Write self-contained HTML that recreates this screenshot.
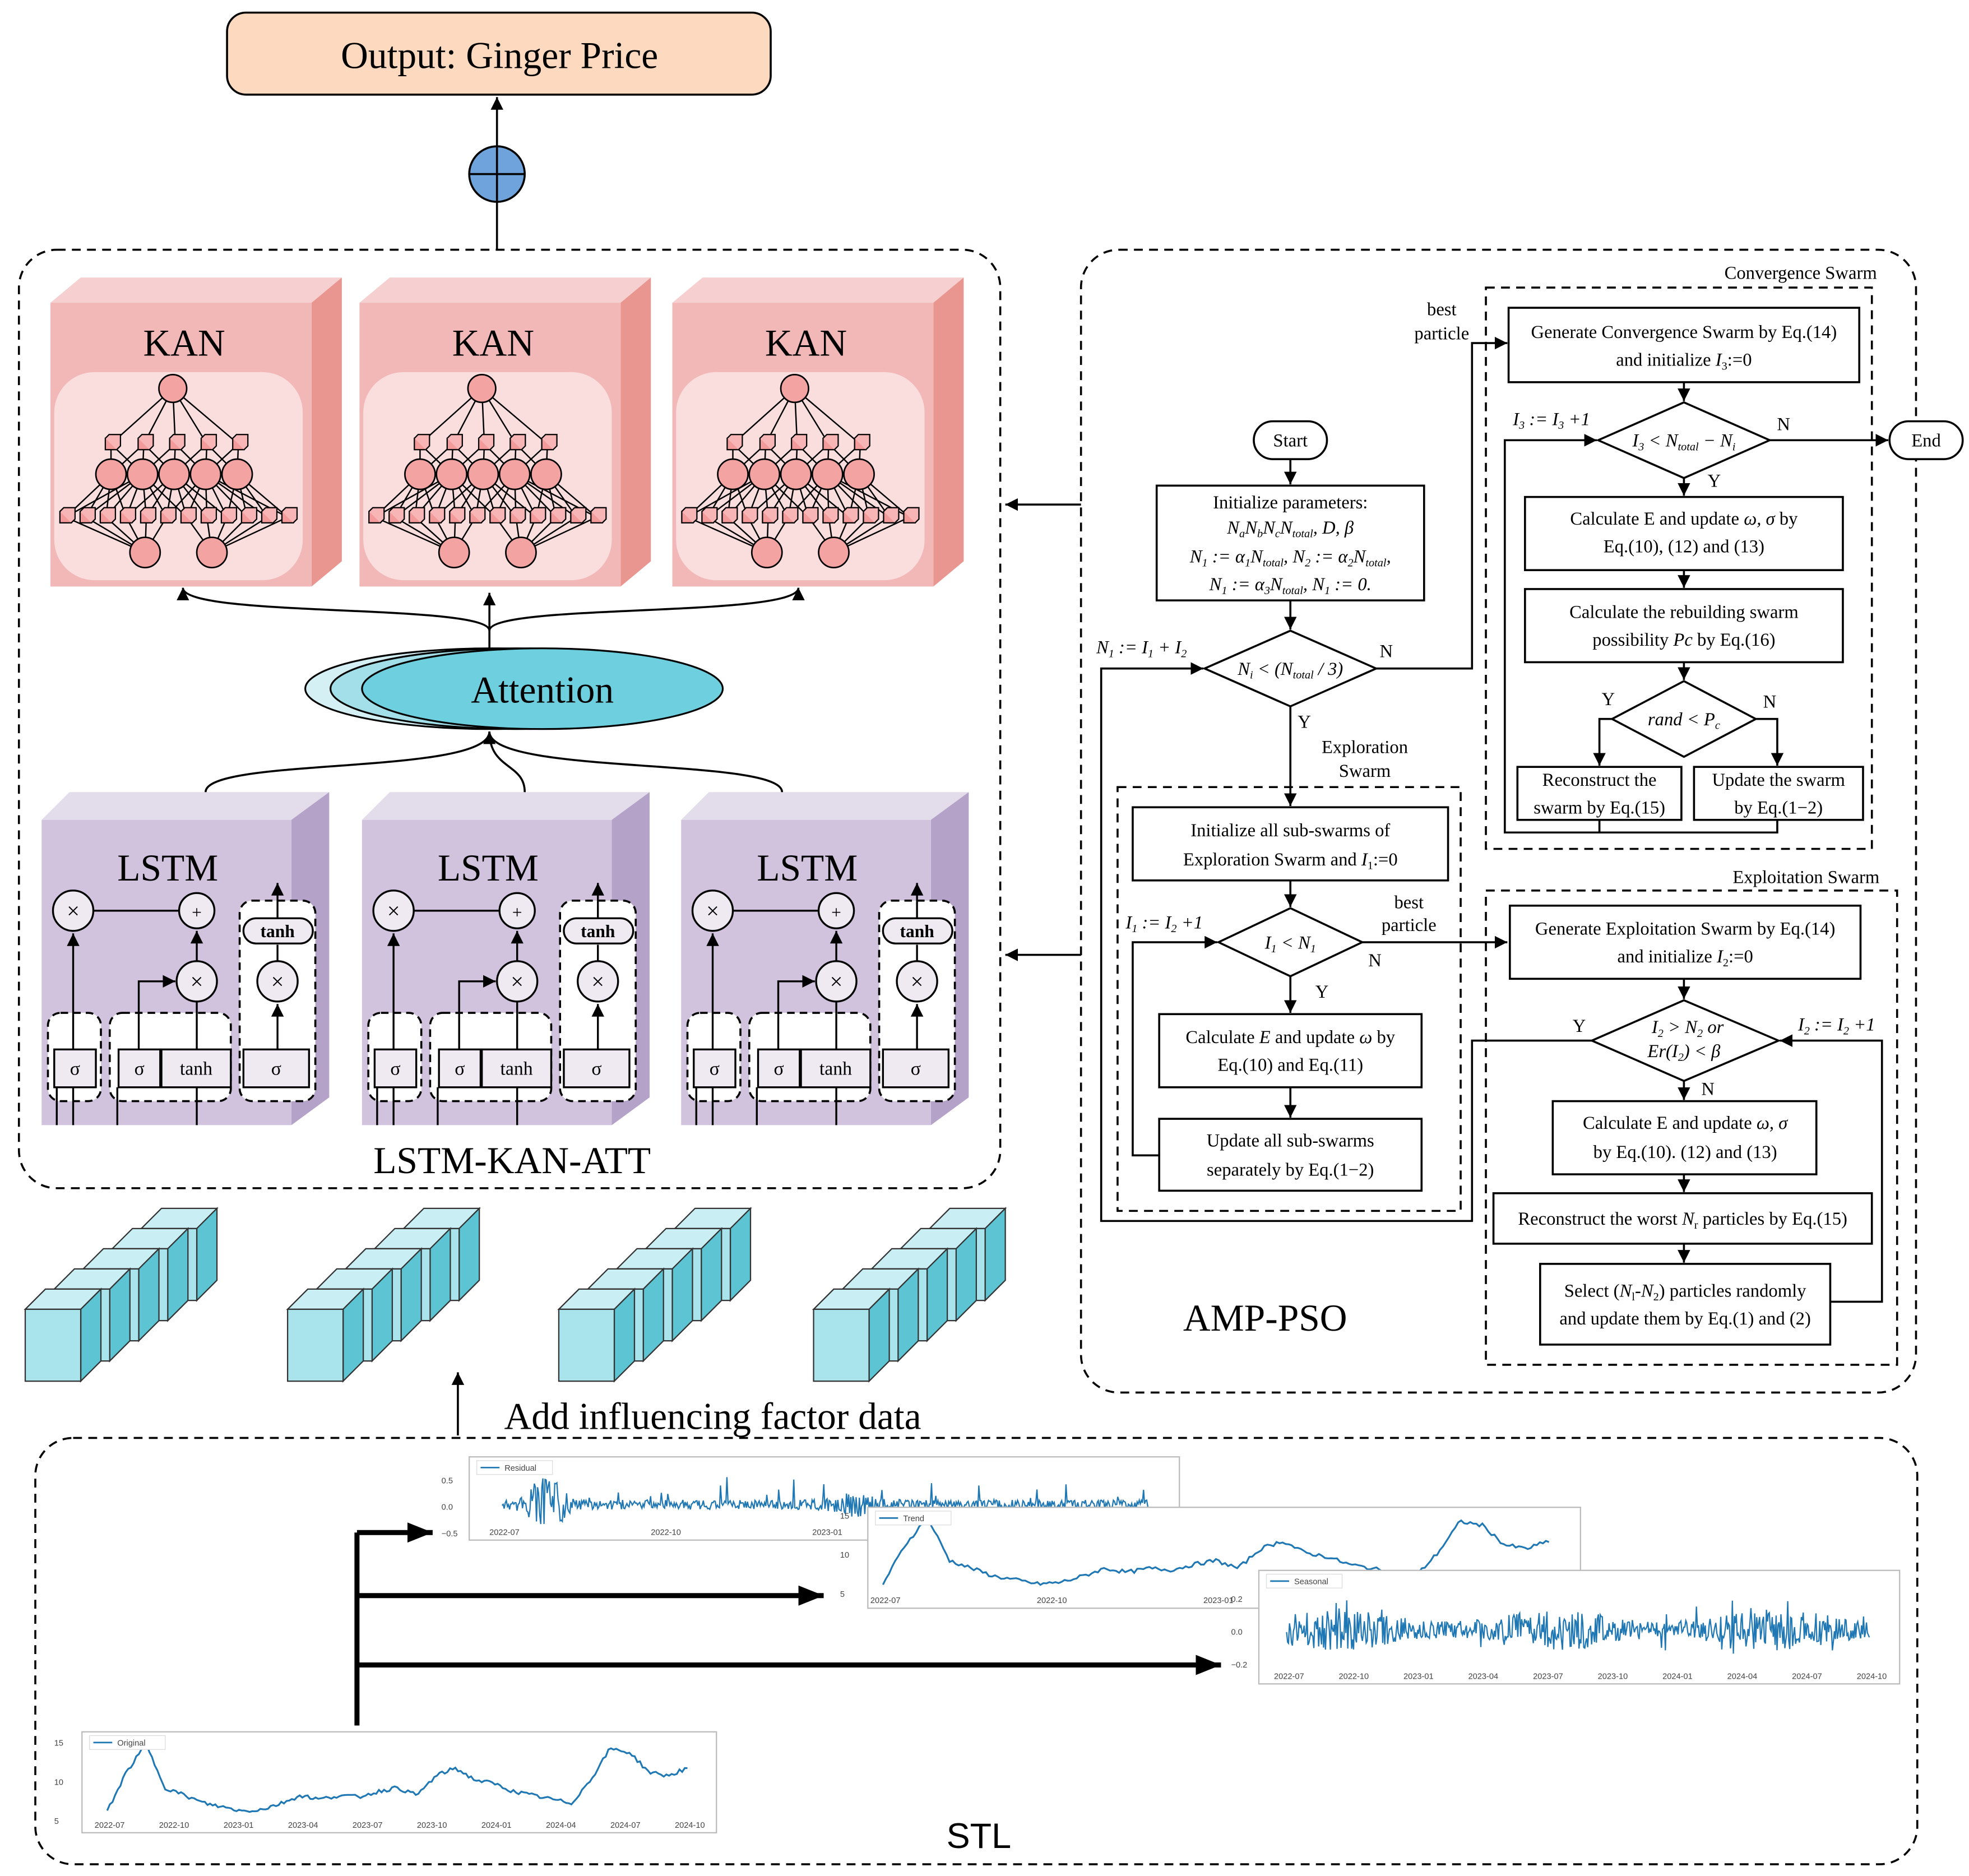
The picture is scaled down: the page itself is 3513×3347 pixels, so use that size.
<!DOCTYPE html>
<html><head><meta charset="utf-8">
<style>
html,body{margin:0;padding:0;background:#fff;}
svg{display:block;}
text{font-family:"Liberation Serif",serif;}
.f{font-size:14.5px;text-anchor:middle;}
.i{font-style:italic;}
.b{fill:#fff;stroke:#000;stroke-width:1.6;}
.l{fill:none;stroke:#000;stroke-width:1.6;}
.d{fill:none;stroke:#000;stroke-width:1.6;stroke-dasharray:7 5;}
.big{font-size:30px;text-anchor:middle;}
.tk{font-family:"Liberation Sans",sans-serif;font-size:6.5px;fill:#444;}
</style></head>
<body>
<svg id="s" width="3513" height="3347" viewBox="0 0 1561 1487.3" preserveAspectRatio="none" xmlns="http://www.w3.org/2000/svg">
<defs>
<marker id="a" markerUnits="userSpaceOnUse" markerWidth="12" markerHeight="12" refX="10" refY="5" orient="auto"><path d="M0,0 L10,5 L0,10 z" fill="#000"/></marker>
<marker id="a2" markerUnits="userSpaceOnUse" markerWidth="24" markerHeight="20" refX="20" refY="8" orient="auto"><path d="M0,0 L20,8 L0,16 z" fill="#000"/></marker>
</defs>
<rect width="1561" height="1488" fill="#fff"/>

<!-- Output -->
<rect x="180" y="10" width="431" height="65" rx="15" fill="#fcd9bf" stroke="#000" stroke-width="1.6"/>
<text x="396" y="54" class="big">Output: Ginger Price</text>
<line x1="394" y1="198" x2="394" y2="160" class="l"/>
<line x1="394" y1="116" x2="394" y2="77" class="l" marker-end="url(#a)"/>
<circle cx="394" cy="138" r="22" fill="#6fa3dc" stroke="#000" stroke-width="1.6"/>
<line x1="372" y1="138" x2="416" y2="138" class="l"/><line x1="394" y1="116" x2="394" y2="160" class="l"/>

<!-- left dashed -->
<rect x="15" y="198" width="778" height="744" rx="30" class="d"/>
<g id="kan"></g>
<g id="lstm"></g>
<g id="att">
<ellipse cx="390" cy="546" rx="148" ry="32" fill="#d4f0f4" stroke="#000" stroke-width="1.4"/>
<ellipse cx="410" cy="546" rx="148" ry="32" fill="#a3dfe9" stroke="#000" stroke-width="1.4"/>
<ellipse cx="430" cy="546" rx="143" ry="32" fill="#6ecfdf" stroke="#000" stroke-width="1.4"/>
<text x="430" y="557" class="big">Attention</text>
<line x1="388" y1="515" x2="388" y2="470" class="l" marker-end="url(#a)"/>
<path d="M388,500 C388,478 145,490 145,466" class="l" marker-end="url(#a)"/>
<path d="M388,500 C388,478 633,490 633,466" class="l" marker-end="url(#a)"/>
<path d="M163,628 C163,600 388,615 388,580" class="l" marker-end="url(#a)"/>
<path d="M416,628 C416,605 388,610 388,580" class="l"/>
<path d="M620,628 C620,600 388,615 388,580" class="l"/>
</g>
<text x="406" y="930" class="big">LSTM-KAN-ATT</text>
<text x="133" y="698" class="big">LSTM</text><text x="387" y="698" class="big">LSTM</text><text x="640" y="698" class="big">LSTM</text>
<text x="146" y="282" class="big">KAN</text><text x="391" y="282" class="big">KAN</text><text x="639" y="282" class="big">KAN</text>

<g id="cubes"></g>
<line x1="363" y1="1138" x2="363" y2="1088" class="l" marker-end="url(#a)"/>
<text x="565" y="1133" style="font-size:30px;text-anchor:middle">Add influencing factor data</text>

<!-- STL -->
<rect x="28" y="1140" width="1492" height="338" rx="30" class="d"/>
<text x="776" y="1465" style="font-size:28px;text-anchor:middle;font-family:'Liberation Sans',sans-serif">STL</text>
<g id="charts"></g>
<g stroke="#000" stroke-width="4" fill="none">
<line x1="283" y1="1368" x2="283" y2="1215"/>
<line x1="283" y1="1215" x2="343" y2="1215" marker-end="url(#a2)"/>
<line x1="283" y1="1265" x2="653" y2="1265" marker-end="url(#a2)"/>
<line x1="283" y1="1320" x2="968" y2="1320" marker-end="url(#a2)"/>
</g>

<!-- AMP-PSO -->
<rect x="857" y="198" width="662" height="906" rx="30" class="d"/>
<text x="1003" y="1055" class="big">AMP-PSO</text>
<line x1="857" y1="400" x2="797" y2="400" class="l" marker-end="url(#a)"/>
<line x1="857" y1="757" x2="797" y2="757" class="l" marker-end="url(#a)"/>

<rect x="994" y="334" width="58" height="30" rx="15" class="b"/><text x="1023" y="354" class="f">Start</text>
<line x1="1023" y1="364" x2="1023" y2="384" class="l" marker-end="url(#a)"/>
<rect x="917" y="385" width="212" height="91" class="b"/>
<text x="1023" y="403" class="f">Initialize parameters:</text>
<text x="1023" y="423" class="f i">N<tspan font-size="9" dy="3">a</tspan><tspan dy="-3">N</tspan><tspan font-size="9" dy="3">b</tspan><tspan dy="-3">N</tspan><tspan font-size="9" dy="3">c</tspan><tspan dy="-3">N</tspan><tspan font-size="9" dy="3">total</tspan><tspan dy="-3">, D, β</tspan></text>
<text x="1023" y="446" class="f i">N<tspan font-size="9" dy="3">1</tspan><tspan dy="-3"> := α</tspan><tspan font-size="9" dy="3">1</tspan><tspan dy="-3">N</tspan><tspan font-size="9" dy="3">total</tspan><tspan dy="-3">, N</tspan><tspan font-size="9" dy="3">2</tspan><tspan dy="-3"> := α</tspan><tspan font-size="9" dy="3">2</tspan><tspan dy="-3">N</tspan><tspan font-size="9" dy="3">total</tspan><tspan dy="-3">,</tspan></text>
<text x="1023" y="468" class="f i">N<tspan font-size="9" dy="3">1</tspan><tspan dy="-3"> := α</tspan><tspan font-size="9" dy="3">3</tspan><tspan dy="-3">N</tspan><tspan font-size="9" dy="3">total</tspan><tspan dy="-3">, N</tspan><tspan font-size="9" dy="3">1</tspan><tspan dy="-3"> := 0.</tspan></text>
<line x1="1023" y1="476" x2="1023" y2="499" class="l" marker-end="url(#a)"/>
<polygon points="955,530 1023,500 1091,530 1023,560" class="b"/>
<text x="1023" y="535" class="f i">N<tspan font-size="9" dy="3">i</tspan><tspan dy="-3"> &lt; (N</tspan><tspan font-size="9" dy="3">total</tspan><tspan dy="-3"> / 3)</tspan></text>
<text x="905" y="518" class="f i">N<tspan font-size="9" dy="3">1</tspan><tspan dy="-3"> := I</tspan><tspan font-size="9" dy="3">1</tspan><tspan dy="-3"> + I</tspan><tspan font-size="9" dy="3">2</tspan></text>
<text x="1099" y="521" class="f">N</text>
<polyline points="1091,530 1167,530 1167,272 1195,272" class="l" marker-end="url(#a)"/>
<text x="1143" y="250" class="f">best</text><text x="1143" y="269" class="f">particle</text>
<line x1="1023" y1="560" x2="1023" y2="639" class="l" marker-end="url(#a)"/>
<text x="1034" y="577" class="f">Y</text>
<text x="1082" y="597" class="f">Exploration</text><text x="1082" y="616" class="f">Swarm</text>
<rect x="886" y="624" width="272" height="336" class="d"/>
<rect x="898" y="640" width="250" height="58" class="b"/>
<text x="1023" y="663" class="f">Initialize all sub-swarms of</text>
<text x="1023" y="686" class="f">Exploration Swarm and <tspan class="i">I</tspan><tspan font-size="9" dy="3">1</tspan><tspan dy="-3">:=0</tspan></text>
<line x1="1023" y1="698" x2="1023" y2="719" class="l" marker-end="url(#a)"/>
<polygon points="966,747 1023,720 1080,747 1023,774" class="b"/>
<text x="1023" y="752" class="f i">I<tspan font-size="9" dy="3">1</tspan><tspan dy="-3"> &lt; N</tspan><tspan font-size="9" dy="3">1</tspan></text>
<text x="923" y="736" class="f i">I<tspan font-size="9" dy="3">1</tspan><tspan dy="-3"> := I</tspan><tspan font-size="9" dy="3">2</tspan><tspan dy="-3"> +1</tspan></text>
<text x="1048" y="791" class="f">Y</text><text x="1090" y="766" class="f">N</text>
<text x="1117" y="720" class="f">best</text><text x="1117" y="738" class="f">particle</text>
<line x1="1080" y1="747" x2="1195" y2="747" class="l" marker-end="url(#a)"/>
<line x1="1023" y1="774" x2="1023" y2="803" class="l" marker-end="url(#a)"/>
<rect x="919" y="804" width="208" height="58" class="b"/>
<text x="1023" y="827" class="f">Calculate <tspan class="i">E</tspan> and update <tspan class="i">ω</tspan> by</text>
<text x="1023" y="849" class="f">Eq.(10) and Eq.(11)</text>
<line x1="1023" y1="862" x2="1023" y2="886" class="l" marker-end="url(#a)"/>
<rect x="919" y="887" width="208" height="57" class="b"/>
<text x="1023" y="909" class="f">Update all sub-swarms</text>
<text x="1023" y="932" class="f">separately by Eq.(1−2)</text>
<polyline points="919,916 898,916 898,747 965,747" class="l" marker-end="url(#a)"/>
<polyline points="1262,825 1167,825 1167,968 873,968 873,530 954,530" class="l" marker-end="url(#a)"/>

<!-- Convergence -->
<rect x="1178" y="228" width="306" height="445" class="d"/>
<text x="1488" y="221" style="font-size:14.5px;text-anchor:end">Convergence Swarm</text>
<rect x="1196" y="244" width="278" height="59" class="b"/>
<text x="1335" y="268" class="f">Generate Convergence Swarm by Eq.(14)</text>
<text x="1335" y="290" class="f">and initialize <tspan class="i">I</tspan><tspan font-size="9" dy="3">3</tspan><tspan dy="-3">:=0</tspan></text>
<line x1="1335" y1="303" x2="1335" y2="318" class="l" marker-end="url(#a)"/>
<polygon points="1267,349 1335,319 1403,349 1335,379" class="b"/>
<text x="1335" y="354" class="f i">I<tspan font-size="9" dy="3">3</tspan><tspan dy="-3"> &lt; N</tspan><tspan font-size="9" dy="3">total</tspan><tspan dy="-3"> − N</tspan><tspan font-size="9" dy="3">i</tspan></text>
<text x="1230" y="337" class="f i">I<tspan font-size="9" dy="3">3</tspan><tspan dy="-3"> := I</tspan><tspan font-size="9" dy="3">3</tspan><tspan dy="-3"> +1</tspan></text>
<text x="1414" y="341" class="f">N</text><text x="1359" y="386" class="f">Y</text>
<line x1="1403" y1="349" x2="1497" y2="349" class="l" marker-end="url(#a)"/>
<rect x="1498" y="334" width="58" height="30" rx="15" class="b"/><text x="1527" y="354" class="f">End</text>
<line x1="1335" y1="379" x2="1335" y2="393" class="l" marker-end="url(#a)"/>
<rect x="1209" y="394" width="252" height="58" class="b"/>
<text x="1335" y="416" class="f">Calculate E and update <tspan class="i">ω, σ</tspan> by</text>
<text x="1335" y="438" class="f">Eq.(10), (12) and (13)</text>
<line x1="1335" y1="452" x2="1335" y2="466" class="l" marker-end="url(#a)"/>
<rect x="1209" y="467" width="252" height="58" class="b"/>
<text x="1335" y="490" class="f">Calculate the rebuilding swarm</text>
<text x="1335" y="512" class="f">possibility <tspan class="i">Pc</tspan> by Eq.(16)</text>
<line x1="1335" y1="525" x2="1335" y2="539" class="l" marker-end="url(#a)"/>
<polygon points="1278,570 1335,540 1392,570 1335,600" class="b"/>
<text x="1335" y="575" class="f i">rand &lt; P<tspan font-size="9" dy="3">c</tspan></text>
<text x="1275" y="559" class="f">Y</text><text x="1403" y="561" class="f">N</text>
<polyline points="1278,570 1268,570 1268,607" class="l" marker-end="url(#a)"/>
<polyline points="1392,570 1409,570 1409,607" class="l" marker-end="url(#a)"/>
<rect x="1203" y="608" width="130" height="42" class="b"/>
<text x="1268" y="623" class="f">Reconstruct the</text><text x="1268" y="645" class="f">swarm by Eq.(15)</text>
<rect x="1343" y="608" width="134" height="42" class="b"/>
<text x="1410" y="623" class="f">Update the swarm</text><text x="1410" y="645" class="f">by Eq.(1−2)</text>
<polyline points="1268,650 1268,660 1193,660 1193,349 1266,349" class="l" marker-end="url(#a)"/>
<polyline points="1409,650 1409,660 1268,660" class="l"/>

<!-- Exploitation -->
<rect x="1178" y="706" width="326" height="376" class="d"/>
<text x="1490" y="700" style="font-size:14.5px;text-anchor:end">Exploitation Swarm</text>
<rect x="1197" y="718" width="278" height="58" class="b"/>
<text x="1336" y="741" class="f">Generate Exploitation Swarm by Eq.(14)</text>
<text x="1336" y="763" class="f">and initialize <tspan class="i">I</tspan><tspan font-size="9" dy="3">2</tspan><tspan dy="-3">:=0</tspan></text>
<line x1="1335" y1="776" x2="1335" y2="792" class="l" marker-end="url(#a)"/>
<polygon points="1262,825 1335,793 1410,825 1335,857" class="b"/>
<text x="1338" y="819" class="f i">I<tspan font-size="9" dy="3">2</tspan><tspan dy="-3"> &gt; N</tspan><tspan font-size="9" dy="3">2</tspan><tspan dy="-3"> or</tspan></text>
<text x="1335" y="838" class="f i">Er(I<tspan font-size="9" dy="3">2</tspan><tspan dy="-3">) &lt; β</tspan></text>
<text x="1252" y="818" class="f">Y</text><text x="1354" y="868" class="f">N</text>
<text x="1456" y="817" class="f i">I<tspan font-size="9" dy="3">2</tspan><tspan dy="-3"> := I</tspan><tspan font-size="9" dy="3">2</tspan><tspan dy="-3"> +1</tspan></text>
<line x1="1335" y1="857" x2="1335" y2="872" class="l" marker-end="url(#a)"/>
<rect x="1231" y="873" width="209" height="58" class="b"/>
<text x="1336" y="895" class="f">Calculate E and update <tspan class="i">ω, σ</tspan></text>
<text x="1336" y="918" class="f">by Eq.(10). (12) and (13)</text>
<line x1="1335" y1="931" x2="1335" y2="945" class="l" marker-end="url(#a)"/>
<rect x="1184" y="946" width="300" height="40" class="b"/>
<text x="1334" y="971" class="f">Reconstruct the worst <tspan class="i">N</tspan><tspan font-size="9" dy="3">r</tspan><tspan dy="-3"> particles by Eq.(15)</tspan></text>
<line x1="1335" y1="986" x2="1335" y2="1001" class="l" marker-end="url(#a)"/>
<rect x="1221" y="1002" width="230" height="64" class="b"/>
<text x="1336" y="1028" class="f">Select (<tspan class="i">N</tspan><tspan font-size="9" dy="3">l</tspan><tspan dy="-3">-</tspan><tspan class="i">N</tspan><tspan font-size="9" dy="3">2</tspan><tspan dy="-3">) particles randomly</tspan></text>
<text x="1336" y="1050" class="f">and update them by Eq.(1) and (2)</text>
<polyline points="1451,1032 1492,1032 1492,825 1411,825" class="l" marker-end="url(#a)"/>
</svg>
<script>
var NS="http://www.w3.org/2000/svg";
function el(p,t,a){var e=document.createElementNS(NS,t);for(var k in a)e.setAttribute(k,a[k]);p.appendChild(e);return e;}
var kan=document.getElementById('kan');
[0,245,493].forEach(function(o){
 var g=el(kan,'g',{transform:'translate('+o+',0)'});
 el(g,'polygon',{points:'40,240 64,220 271,220 247,240',fill:'#f6d0d0'});
 el(g,'polygon',{points:'247,240 271,220 271,445 247,465',fill:'#e8968f'});
 el(g,'rect',{x:40,y:240,width:207,height:225,fill:'#f2b8b8'});
 el(g,'rect',{x:43,y:295,width:197,height:165,rx:32,fill:'#fadede'});
 var c1=[88,114,139,164,189], c2=[88,113,138,163,188], s=[], b=[[115,438],[168,438]];
 for(var i=0;i<12;i++) s.push(52+i*16);
 var L=function(x1,y1,x2,y2){el(g,'line',{x1:x1,y1:y1,x2:x2,y2:y2,stroke:'#000','stroke-width':1.1});};
 c1.forEach(function(x){L(137,308,x,352);});
 c1.forEach(function(x,i){c2.forEach(function(x2,j){if(Math.abs(i-j)<=1)L(x,352,x2,376);});});
 c2.forEach(function(x,i){s.forEach(function(x2,j){if(Math.abs(j/11*4-i)<=1.2)L(x,376,x2,410);});});
 s.forEach(function(x,j){L(x,410,j<6?115:168,438);});
 el(g,'circle',{cx:137,cy:308,r:11,fill:'#f4a3a3',stroke:'#000','stroke-width':1.2});
 function cube(x,y,w){el(g,'rect',{x:x-w/2,y:y-w/2,width:w,height:w,fill:'#f39a9a',stroke:'#000','stroke-width':1});
  el(g,'polyline',{points:(x-w/2)+','+(y-w/2)+' '+(x-w/2+3)+','+(y-w/2-3)+' '+(x+w/2+3)+','+(y-w/2-3)+' '+(x+w/2+3)+','+(y+w/2-3)+' '+(x+w/2)+','+(y+w/2),fill:'#f7b5b5',stroke:'#000','stroke-width':1});}
 c1.forEach(function(x){cube(x,352,9);});
 c2.forEach(function(x){el(g,'circle',{cx:x,cy:376,r:12,fill:'#f4a3a3',stroke:'#000','stroke-width':1.2});});
 s.forEach(function(x){cube(x,410,9);});
 b.forEach(function(p){el(g,'circle',{cx:p[0],cy:p[1],r:12,fill:'#f4a3a3',stroke:'#000','stroke-width':1.2});});
});
var ls=document.getElementById('lstm');
[0,254,507].forEach(function(o){
 var g=el(ls,'g',{transform:'translate('+o+',0)'});
 el(g,'polygon',{points:'33,650 55,628 261,628 239,650',fill:'#e3dcea'});
 el(g,'polygon',{points:'231,650 261,628 261,870 231,892',fill:'#b5a2c8'});
 el(g,'rect',{x:33,y:650,width:198,height:242,fill:'#d1c3dd'});
 var W={fill:'#fff',stroke:'#000','stroke-width':1.6,'stroke-dasharray':'6 4',rx:10};
 el(g,'rect',Object.assign({x:38,y:803,width:42,height:70},W));
 el(g,'rect',Object.assign({x:87,y:803,width:96,height:70},W));
 el(g,'rect',Object.assign({x:190,y:714,width:60,height:159},W));
 var L=function(d,m){var a={d:d,fill:'none',stroke:'#000','stroke-width':1.5};if(m)a['marker-end']='url(#a)';el(g,'path',a);};
 L('M58,892 V740',1);L('M74,722 H142');L('M156,762 V738',1);L('M156,832 V794');
 L('M110,832 V778 H139',1);L('M220,832 V796',1);L('M220,762 V749');L('M220,728 V700',1);
 L('M45,862 V892');L('M93,862 V892');L('M156,862 V892');
 var C=function(x,y,r,t){el(g,'circle',{cx:x,cy:y,r:r,fill:'#efe9f2',stroke:'#000','stroke-width':1.5});var e=el(g,'text',{x:x,y:y+6,'text-anchor':'middle','font-size':r>15?18:14});e.textContent=t;};
 C(58,722,16,'×');C(156,722,14,'+');C(156,778,16,'×');C(220,778,16,'×');
 el(g,'rect',{x:193,y:728,width:55,height:20,rx:10,fill:'#efe9f2',stroke:'#000','stroke-width':1.5});
 var t=el(g,'text',{x:220,y:743,'text-anchor':'middle','font-size':14,'font-family':'Liberation Mono,monospace','font-weight':'bold'});t.textContent='tanh';
 [[43,33,'σ'],[94,33,'σ'],[128,55,'tanh'],[193,52,'σ']].forEach(function(b){
  el(g,'rect',{x:b[0],y:832,width:b[1],height:30,fill:'#efe9f2',stroke:'#000','stroke-width':1.5});
  var e=el(g,'text',{x:b[0]+b[1]/2,y:852,'text-anchor':'middle','font-size':15});e.textContent=b[2];});
});
var cu=document.getElementById('cubes');
[20,228,443,645].forEach(function(x0){
 for(var i=4;i>=0;i--){var x=x0+i*23,y=1038-i*16,w=44,h=57,d=16;
  el(cu,'polygon',{points:x+','+y+' '+(x+d)+','+(y-d)+' '+(x+w+d)+','+(y-d)+' '+(x+w)+','+y,fill:'#c9eff4',stroke:'#333','stroke-width':1});
  el(cu,'polygon',{points:(x+w)+','+y+' '+(x+w+d)+','+(y-d)+' '+(x+w+d)+','+(y+h-d)+' '+(x+w)+','+(y+h),fill:'#5cc4d2',stroke:'#333','stroke-width':1});
  el(cu,'rect',{x:x,y:y,width:w,height:h,fill:'#a9e3ec',stroke:'#333','stroke-width':1});}
});
var ch=document.getElementById('charts');var seed=7;function rnd(){seed=(seed*9301+49297)%233280;return seed/233280;}
function chart(x,y,w,h,px0,px1,py0,py1,kind,labs,ylabs,name){
 el(ch,'rect',{x:x,y:y,width:w,height:h,fill:'#fff',stroke:'#bbb','stroke-width':1});
 var pts=[],n=kind=='t'?220:600;
 var trend=[0.1,0.6,0.95,0.4,0.3,0.2,0.15,0.1,0.12,0.2,0.3,0.25,0.3,0.28,0.35,0.4,0.3,0.55,0.65,0.5,0.45,0.35,0.3,0.25,0.2,0.5,0.9,0.85,0.6,0.55,0.65];
 for(var i=0;i<=n;i++){var t=i/n,yy;
  if(kind=='t'){var k=t*(trend.length-1),j=Math.floor(k),f=k-j;var a=trend[j],b=trend[Math.min(j+1,trend.length-1)];yy=1-(a+(b-a)*f+(rnd()-.5)*0.05);}
  else if(kind=='r'){var amp=0.18+0.9*Math.exp(-Math.pow((t-0.07)/0.03,2))+0.3*Math.exp(-Math.pow((t-0.55)/0.04,2));var sp=rnd()<0.03?0.5:0;yy=0.5+(rnd()-.5)*amp-sp*rnd();}
  else {var amp=0.45+0.2*Math.sin(t*17)+(rnd()<0.05?0.4:0);yy=0.5+(rnd()-.5)*amp;}
  pts.push((px0+(px1-px0)*t).toFixed(1)+','+(py0+(py1-py0)*yy).toFixed(1));}
 el(ch,'polyline',{points:pts.join(' '),fill:'none',stroke:'#1f77b4','stroke-width':kind=='t'?1.4:1});
 el(ch,'rect',{x:x+6,y:y+3,width:60,height:11,fill:'#fff',stroke:'#ddd','stroke-width':.6});
 el(ch,'line',{x1:x+9,y1:y+8.5,x2:x+24,y2:y+8.5,stroke:'#1f77b4','stroke-width':1.2});
 var e=el(ch,'text',{x:x+28,y:y+11,class:'tk'});e.textContent=name;
 labs.forEach(function(l,i){var e=el(ch,'text',{x:px0+i*(px1-px0)/(labs.length-1)-10,y:y+h-4,class:'tk'});e.textContent=l;});
 ylabs.forEach(function(l,i){var e=el(ch,'text',{x:x-22,y:py0+4+i*(py1-py0)/(ylabs.length-1),class:'tk'});e.textContent=l;});
}
var L1=['2022-07','2022-10','2023-01','2023-04','2023-07','2023-10','2024-01','2024-04','2024-07','2024-10'];
chart(372,1155,563,66,398,910,1172,1214,'r',L1.slice(0,5),['0.5','0.0','−0.5'],'Residual');
chart(688,1195,565,80,700,1228,1200,1262,'t',L1.slice(0,5),['15','10','5'],'Trend');
chart(998,1245,508,90,1020,1482,1266,1318,'s',L1,['0.2','0.0','−0.2'],'Seasonal');
chart(65,1373,503,80,85,545,1380,1442,'t',L1,['15','10','5'],'Original');
</script>
</body></html>
